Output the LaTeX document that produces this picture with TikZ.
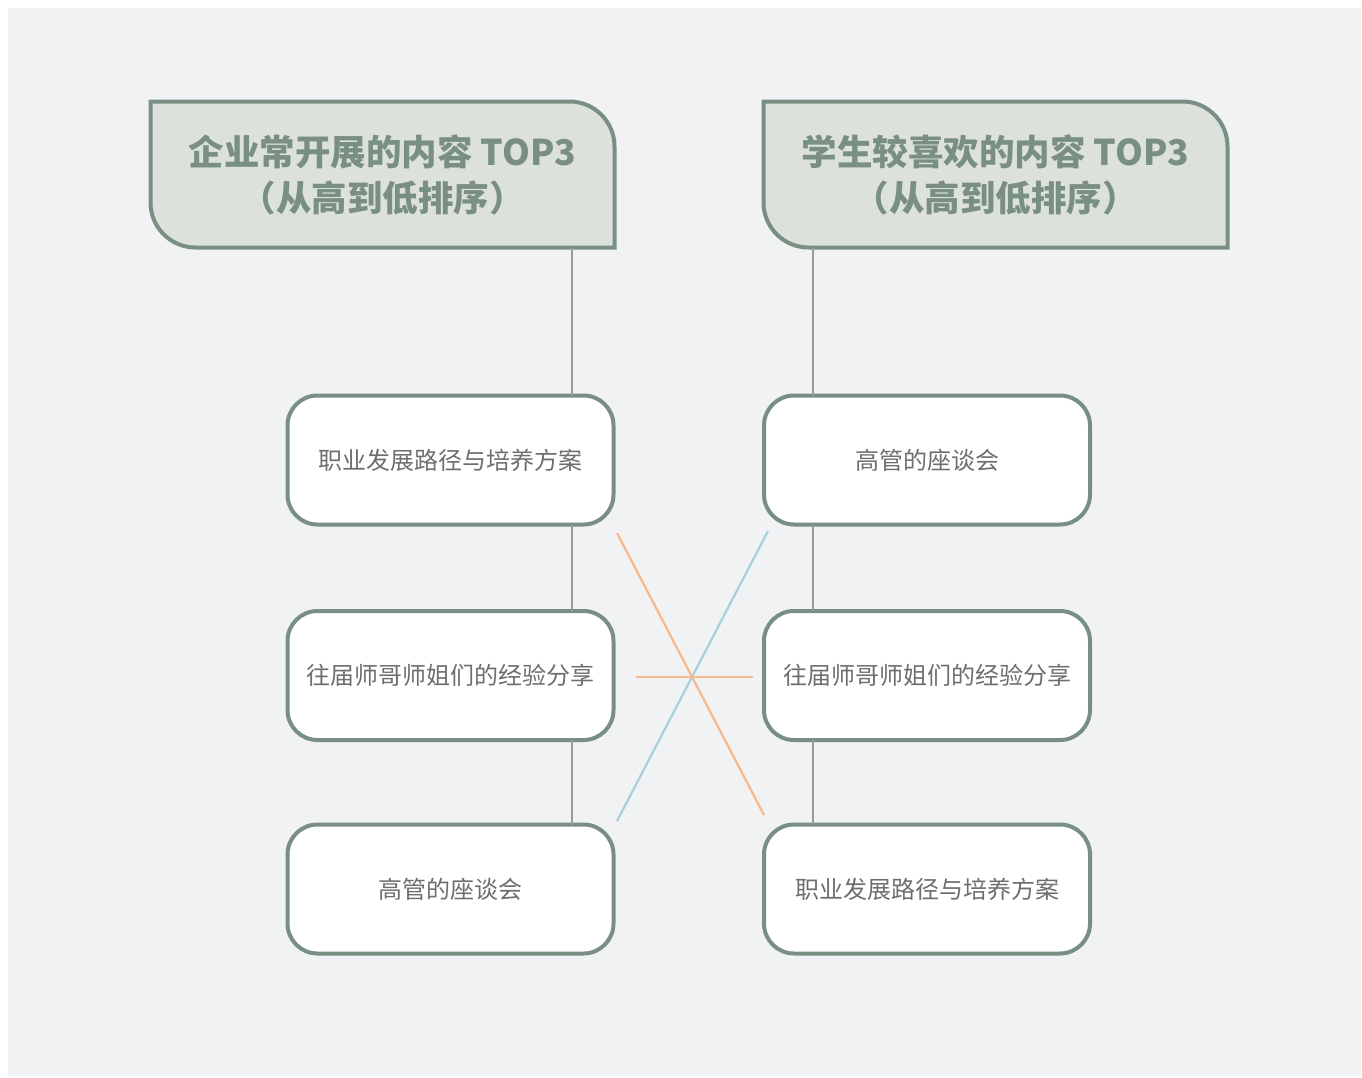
\documentclass[tikz,border=0pt]{standalone}
\usepackage{fontspec}
\newfontfamily\cjk{Noto Sans CJK SC}
\definecolor{bgc}{HTML}{F1F2F4}
\definecolor{hfill}{HTML}{DCE1DC}
\definecolor{hline}{HTML}{7A8F84}
\definecolor{btext}{HTML}{6E6E6E}
\definecolor{conn}{HTML}{9A9A9A}
\definecolor{orng}{HTML}{F9B88A}
\definecolor{blu}{HTML}{A7D0DC}
\tikzset{
  headbox/.style={inner sep=0pt, outer sep=0pt, minimum width=464pt, minimum height=146pt, align=center,
    text=hline, font=\cjk\bfseries\fontsize{35.5pt}{46pt}\selectfont},
  headshape/.style={draw=hline, fill=hfill, line width=4pt},
  itembox/.style={draw=hline, fill=white, line width=4pt, rounded corners=30pt, outer sep=0pt,
    minimum width=326pt, minimum height=129pt, text=btext,
    font=\cjk\fontsize{24pt}{28pt}\selectfont},
  vconn/.style={draw=conn, line width=2pt},
  oconn/.style={draw=orng, line width=2.2pt},
  bconn/.style={draw=blu, line width=2.2pt}
}
\begin{document}
\begin{tikzpicture}[x=1pt,y=-1pt]
\useasboundingbox (0,0) rectangle (1362,1077);
\fill[white] (0,0) rectangle (1362,1077);
\fill[bgc] (8,8) rectangle (1361,1076);

% header nodes (text) and their shapes
\node[headbox] (hl) at (382.5,174.5) {};
\node[headbox] (hr) at (995.5,174.5) {};
\foreach \h in {hl,hr}{
  \draw[headshape] (\h.north west) -- ([xshift=-45pt]\h.north east)
    arc[start angle=90,end angle=0,radius=45pt] -- (\h.south east)
    -- ([xshift=45pt]\h.south west) arc[start angle=270,end angle=180,radius=45pt] -- cycle;
}
\node[headbox] at (hl) {企业常开展的内容 TOP3\\（从高到低排序）};
\node[headbox] at (hr) {学生较喜欢的内容 TOP3\\（从高到低排序）};

% item boxes
\node[itembox] (l1) at (450.5,460) {职业发展路径与培养方案};
\node[itembox] (l2) at (450.5,675.5) {往届师哥师姐们的经验分享};
\node[itembox] (l3) at (450.5,889) {高管的座谈会};
\node[itembox] (r1) at (927,460) {高管的座谈会};
\node[itembox] (r2) at (927,675.5) {往届师哥师姐们的经验分享};
\node[itembox] (r3) at (927,889) {职业发展路径与培养方案};

% vertical connectors
\coordinate (lx) at ([xshift=-41.5pt]l1.north east);
\coordinate (rx) at ([xshift=49pt]r1.north west);
\draw[vconn] (lx |- hl.south) -- (lx |- l1.north);
\draw[vconn] (lx |- l1.south) -- (lx |- l2.north);
\draw[vconn] (lx |- l2.south) -- (lx |- l3.north);
\draw[vconn] (rx |- hr.south) -- (rx |- r1.north);
\draw[vconn] (rx |- r1.south) -- (rx |- r2.north);
\draw[vconn] (rx |- r2.south) -- (rx |- r3.north);

% crossing lines
\coordinate (oa) at (617,533);
\coordinate (ob) at (764,815);
\coordinate (ba) at (768,531);
\coordinate (bb) at (617,821);
\coordinate (ha) at (636,677);
\coordinate (hb) at (753,677);
\draw[oconn] (oa) -- (ob);
\draw[bconn] (ba) -- (bb);
\draw[oconn] (ha) -- (hb);
\end{tikzpicture}
\end{document}
